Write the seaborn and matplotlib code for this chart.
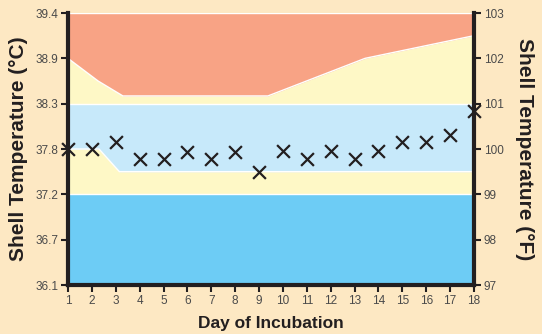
import numpy as np
import pandas as pd
import matplotlib.pyplot as plt
import seaborn as sns

# Messwerte pro Tag (in °F, Achse ist linear in °F)
days = list(range(1, 19))
shell_temp_f = [100.0, 100.0, 100.15, 99.77, 99.77, 99.94, 99.77, 99.94, 99.5,
                99.96, 99.78, 99.96, 99.78, 99.96, 100.15, 100.15, 100.31, 100.84]

# Grenzen der Farbbänder
cold_top_f = 99.0
low_band_days = [1, 2.3, 3.15, 18]
low_band_f = [100.0, 100.0, 99.5, 99.5]
ideal_top_f = 101.0
hot_band_days = [1, 2.26, 3.3, 9.37, 13.44, 18]
hot_band_f = [102.0, 101.5, 101.17, 101.17, 102.0, 102.5]

f_ticks = [97, 98, 99, 100, 101, 102, 103]
c_labels = ["36.1", "36.7", "37.2", "37.8", "38.3", "38.9", "39.4"]

bg = "#FDE8C3"
salmon = "#F8A385"
yellow = "#FEF8C6"
light_blue = "#C7E9FA"
dark_blue = "#6DCCF5"
ink = "#231F20"
grey = "#4A4A4A"

sns.set_style("ticks")
plt.rcParams["font.family"] = ["Liberation Sans", "DejaVu Sans"]

fig = plt.figure(figsize=(5.42, 3.34), dpi=100, facecolor=bg)
ax = fig.add_axes([68 / 542, 1 - 285 / 334, 406 / 542, 272 / 334])
ax.set_facecolor(bg)

x_all = np.array([1, 18])
ax.fill_between(x_all, 97, cold_top_f, color=dark_blue, lw=0)
ax.fill_between(low_band_days, cold_top_f, low_band_f, color=yellow, lw=0)
ax.fill_between(low_band_days, low_band_f, ideal_top_f, color=light_blue, lw=0)
ax.fill_between(hot_band_days, ideal_top_f, hot_band_f, color=yellow, lw=0)
ax.fill_between(hot_band_days, hot_band_f, 103, color=salmon, lw=0)

# dünne weisse Trennlinien
ax.plot(x_all, [cold_top_f] * 2, color="white", lw=1)
ax.plot(low_band_days, low_band_f, color="white", lw=1)
ax.plot(x_all, [ideal_top_f] * 2, color="white", lw=1)
ax.plot(hot_band_days, hot_band_f, color="white", lw=1)
ax.plot(x_all, [103] * 2, color="white", lw=1)

df = pd.DataFrame({"day": days, "temp": shell_temp_f})
sns.scatterplot(data=df, x="day", y="temp", marker="x", s=85, color=ink,
                linewidth=1.6, ax=ax, zorder=10, clip_on=False)

ax.set_xlim(1, 18)
ax.set_ylim(97, 103)
ax.set_xticks(days)
ax.set_yticks(f_ticks)
ax.set_yticklabels(c_labels)

ax2 = ax.twinx()
ax2.set_ylim(97, 103)
ax2.set_yticks(f_ticks)
ax2.set_yticklabels([str(t) for t in f_ticks])

for a in (ax, ax2):
    a.spines["top"].set_visible(False)
    for side in ("left", "right", "bottom"):
        a.spines[side].set_linewidth(3)
        a.spines[side].set_color(ink)
    a.tick_params(length=5, width=1.5, color=ink, labelcolor=grey,
                  labelsize=8.5, pad=2)
ax.spines["right"].set_visible(False)
ax2.spines["left"].set_visible(False)
ax2.spines["bottom"].set_visible(False)

ax.set_xlabel("Day of Incubation", fontsize=12.5, fontweight="bold", color=ink, labelpad=7)
ax.set_ylabel("Shell Temperature (°C)", fontsize=15, fontweight="bold", color=ink, labelpad=5)
ax2.set_ylabel("Shell Temperature (°F)", fontsize=15, fontweight="bold", color=ink,
               rotation=270, labelpad=22)

fig.savefig("out.png", dpi=100, facecolor=bg)
